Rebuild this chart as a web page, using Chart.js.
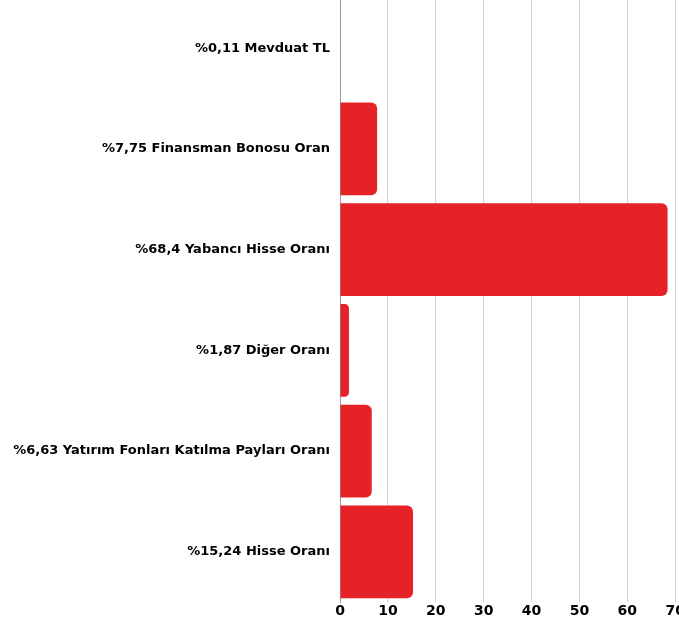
<!DOCTYPE html>
<html>
<head>
<meta charset="utf-8">
<script src="https://cdn.jsdelivr.net/npm/chart.js@4"></script>
<style>
html,body{margin:0;padding:0;background:#fff;overflow:hidden}
#wrap{width:686px;height:633px;position:relative;margin-top:-12px}
</style>
</head>
<body>
<div id="wrap"><canvas id="mychart"></canvas></div>
<script>
// kategori etiketleri ve oranlar
var labels=[
  "%0,11 Mevduat TL",
  "%7,75 Finansman Bonosu Oran",
  "%68,4 Yabancı Hisse Oranı",
  "%1,87 Diğer Oranı",
  "%6,63 Yatırım Fonları Katılma Payları Oranı",
  "%15,24 Hisse Oranı"
]
var values=[0.11,7.75,68.4,1.87,6.63,15.24]
var xTicks=[0,10,20,30,40,50,60,70]

var ctx=document.getElementById('mychart').getContext('2d')
var chart=new Chart(ctx,{
  type:'bar',
  data:{
    labels:labels,
    datasets:[{
      data:values,
      backgroundColor:"#e52228",
      borderRadius:6,
      borderSkipped:'start',
      barPercentage:1,
      categoryPercentage:0.92
    }]
  },
  options:{
    indexAxis:'y',
    responsive:true,
    maintainAspectRatio:false,
    animation:false,
    layout:{padding:0},
    plugins:{legend:{display:false},tooltip:{enabled:false}},
    scales:{
      x:{
        min:0,max:70,
        afterBuildTicks:function(s){s.ticks=xTicks.map(function(v){return {value:v}})},
        grid:{color:"#cfcfcf",drawTicks:false},
        border:{display:false},
        ticks:{color:"#000",padding:1,font:{family:"DejaVu Sans",weight:"bold",size:14}}
      },
      y:{
        afterFit:function(s){s.width=340},
        grid:{display:false},
        border:{display:true,color:"#999",width:1},
        ticks:{color:"#000",padding:2,font:{family:"DejaVu Sans",weight:"bold",size:13}}
      }
    }
  }
})
</script>
</body>
</html>
